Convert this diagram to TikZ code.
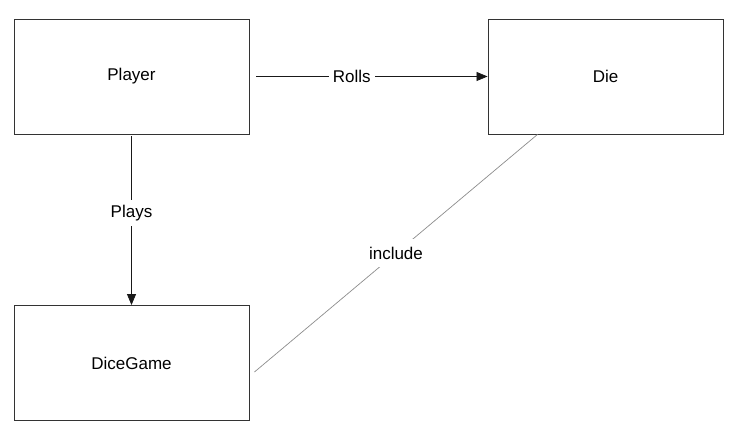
\documentclass[tikz,border=0pt]{standalone}
\usepackage{fontspec}
\setmainfont{Liberation Sans}
\usetikzlibrary{arrows.meta}

\tikzset{
    box/.style={draw=black!80, line width=0.9pt, minimum width=235pt, minimum height=115pt, inner sep=0pt},
    tag/.style={fill=white, inner xsep=4pt, inner ysep=5pt},
    link/.style={line width=0.8pt, draw=black!90},
}

\begin{document}
\begin{tikzpicture}[x=1pt, y=-1pt, font=\fontsize{17}{20}\selectfont]
    		\useasboundingbox (0,0) rectangle (736,430);
    		\node[box] (player) at (131.5, 76.5) {Player};
    		\node[box] (die) at (605.5, 76.5) {Die};
    		\node[box] (game) at (131.5, 363) {DiceGame};
    		
    		\coordinate (dieend) at ([xshift=-68pt]die.south);
    		\coordinate (gameend) at ([xshift=5pt, yshift=-9pt]game.east);
    		
    		\draw[link, -{Triangle[length=11pt, width=9pt]}, shorten <=7pt] (player.east) -- node[tag, pos=0.43] (rolls) {Rolls} (die.west);
    		\draw[link, -{Triangle[length=11pt, width=9pt]}, shorten <=2pt] (player.south) -- node[tag, pos=0.46] (plays) {Plays} (game.north);
    		\draw[line width=0.7pt, draw=black!45] (dieend) -- node[tag, inner ysep=8pt, pos=0.5] (include) {include} (gameend);
    	\end{tikzpicture}
\end{document}
